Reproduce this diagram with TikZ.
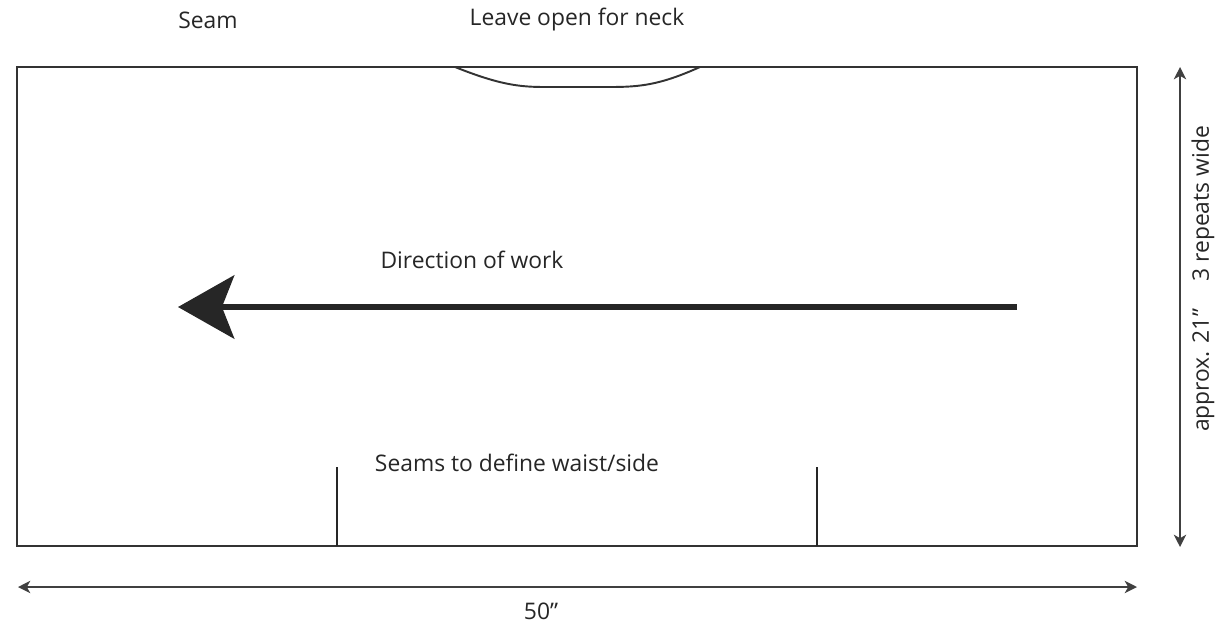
\documentclass[tikz,border=0pt]{standalone}
\usepackage{fontspec}
\setmainfont{Open Sans}
\usetikzlibrary{arrows.meta, positioning}

\begin{document}
\begin{tikzpicture}[x=0.02cm, y=-0.02cm, font=\fontsize{13}{15}\selectfont,
        panel/.style={draw=black!80, line width=1.1pt},
        seamline/.style={draw=black!85, line width=0.9pt},
        dimline/.style={draw=black!75, line width=1pt,
                        {Stealth[length=7pt, width=7pt, inset=2pt]}-{Stealth[length=7pt, width=7pt, inset=2pt]}},
        workarrow/.style={draw=black!85, line width=3.4pt,
                          -{Stealth[length=32pt, width=36pt, inset=7pt]}},
        lbl/.style={text=black!85, inner sep=0pt}]
      \useasboundingbox (0,0) rectangle (1230,626);
      % knitted panel with the neck opening
      \draw[panel] (17,67) rectangle (1137,546);
      \draw[panel] (455,67) .. controls (500,85) and (520,87) .. (545,87)
        -- (610,87) .. controls (640,87) and (660,85) .. (700,67);
      % side seams
      \coordinate (seamL top) at (337,467);
      \coordinate (seamL bot) at (337,546);
      \coordinate (seamR top) at (817,467);
      \coordinate (seamR bot) at (817,546);
      \draw[seamline] (seamL top) -- (seamL bot);
      \draw[seamline] (seamR top) -- (seamR bot);
      % labels
      \node[lbl] (seam) at (208,20) {Seam};
      \node[lbl] (neck) at (577,20) {Leave open for neck};
      \node[lbl] (direction) at (472,260) {Direction of work};
      \node[lbl] (waist) at (517,463) {Seams to define waist/side};
      % direction of work
      \coordinate (work start) at (1017,307);
      \coordinate (work end) at (178,307);
      \draw[workarrow] (work start) -- (work end);
      % dimensions
      \coordinate (wide L) at (18,587);
      \coordinate (wide R) at (1137,587);
      \draw[dimline] (wide L) -- (wide R);
      \node[lbl] (width) at (541,611) {50”};
      \coordinate (high T) at (1180,67);
      \coordinate (high B) at (1180,547);
      \draw[dimline] (high T) -- (high B);
      \node[lbl, rotate=90] (height) at (1203,279) {approx. 21”\hspace{1.2em}3 repeats wide};
    \end{tikzpicture}
\end{document}
